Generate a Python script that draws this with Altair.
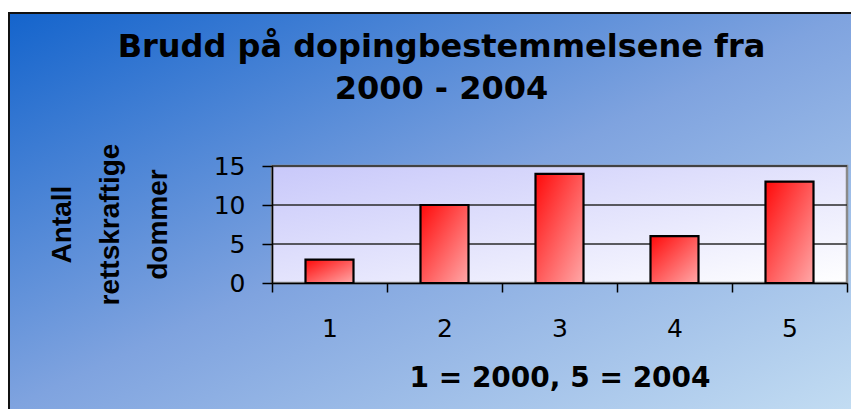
import altair as alt
import pandas as pd

# ---- data ----
years = [1, 2, 3, 4, 5]
counts = [3, 10, 14, 6, 13]
grid_vals = [5, 10, 15]
y_ticks = [0, 5, 10, 15]
title_lines = ["Brudd på dopingbestemmelsene fra", "2000 - 2004"]
y_title = ["Antall", "rettskraftige", "dommer"]
x_title = "1 = 2000, 5 = 2004"

W, H = 575, 117
PAD = {"left": 264, "top": 158, "right": 4, "bottom": 126}

df = pd.DataFrame({"year": years, "count": counts})
gdf = pd.DataFrame({"count": grid_vals})

one = alt.Data(values=[{"k": 0}])

y_axis = alt.Axis(title=y_title, values=y_ticks, grid=False, zindex=2,
                  domainColor="#000000", domainWidth=1.5,
                  tickColor="#000000", tickWidth=1.5, tickSize=10,
                  labelFont="DejaVu Sans", labelFontSize=25,
                  labelColor="#000000", labelPadding=17,
                  titleFont="Liberation Sans", titleFontSize=28,
                  titleFontWeight="bold", titleColor="#000000",
                  titleAngle=270, titleAlign="center",
                  titleBaseline="middle", titleLineHeight=48,
                  titleX=-210, titleY=58)
y_scale = alt.Scale(domain=[0, 15])

bg = alt.Chart(one).mark_rect(
    fill=alt.Gradient(
        gradient="linear", x1=0, y1=0, x2=1, y2=1,
        stops=[alt.GradientStop(color="#1464cc", offset=0),
               alt.GradientStop(color="#7fa3df", offset=0.5),
               alt.GradientStop(color="#c2dcf2", offset=1)]),
).encode(x=alt.value(-PAD["left"]), x2=alt.value(W + PAD["right"]),
         y=alt.value(-153), y2=alt.value(H + PAD["bottom"]))

frame_left = alt.Chart(one).mark_rule(color="#111111", strokeWidth=2).encode(
    x=alt.value(-PAD["left"] + 1), y=alt.value(-153), y2=alt.value(H + PAD["bottom"]))
frame_top = alt.Chart(one).mark_rule(color="#111111", strokeWidth=2).encode(
    x=alt.value(-PAD["left"]), x2=alt.value(W + PAD["right"]), y=alt.value(-153))

plot_bg = alt.Chart(one).mark_rect(
    fill=alt.Gradient(
        gradient="linear", x1=0, y1=0, x2=1, y2=1,
        stops=[alt.GradientStop(color="#c8c8fa", offset=0),
               alt.GradientStop(color="#ffffff", offset=1)]),
    stroke="#8a8a8a", strokeWidth=2.5,
).encode(x=alt.value(0), x2=alt.value(W), y=alt.value(0), y2=alt.value(H))

grid = alt.Chart(gdf).mark_rule(color="#2a2a2a", strokeWidth=1.5).encode(
    y=alt.Y("count:Q", scale=y_scale, axis=y_axis),
    x=alt.value(0), x2=alt.value(W),
)

bars = alt.Chart(df).mark_bar(
    size=48,
    fill=alt.Gradient(
        gradient="linear", x1=0, y1=0, x2=1, y2=1,
        stops=[alt.GradientStop(color="#ff0a0a", offset=0),
               alt.GradientStop(color="#ffa8a8", offset=1)]),
    stroke="#000000", strokeWidth=2.2,
).encode(
    x=alt.X("year:O", scale=alt.Scale(paddingInner=0, paddingOuter=0),
            axis=alt.Axis(title=x_title, labelAngle=0, tickBand="extent",
                          zindex=2,
                          domainColor="#000000", domainWidth=1.5,
                          tickColor="#000000", tickWidth=1.5, tickSize=9,
                          labelFont="DejaVu Sans", labelFontSize=25,
                          labelColor="#000000", labelPadding=24,
                          titleFont="DejaVu Sans", titleFontSize=28,
                          titleFontWeight="bold", titleColor="#000000",
                          titleBaseline="alphabetic", titleY=103)),
    y=alt.Y("count:Q", scale=y_scale, axis=y_axis),
)

chart = alt.layer(bg, frame_left, frame_top, plot_bg, grid, bars).properties(
    width=W, height=H,
    title=alt.TitleParams(text=title_lines, font="DejaVu Sans", fontSize=32,
                          fontWeight="bold", color="#000000", lineHeight=42,
                          anchor="middle", frame="group", dx=-118, offset=-94,
                          zindex=2),
    autosize=alt.AutoSizeParams(type="none"),
    padding=PAD,
).configure_view(stroke=None)

chart.save("out.html", embed_options={"renderer": "svg", "actions": False})
